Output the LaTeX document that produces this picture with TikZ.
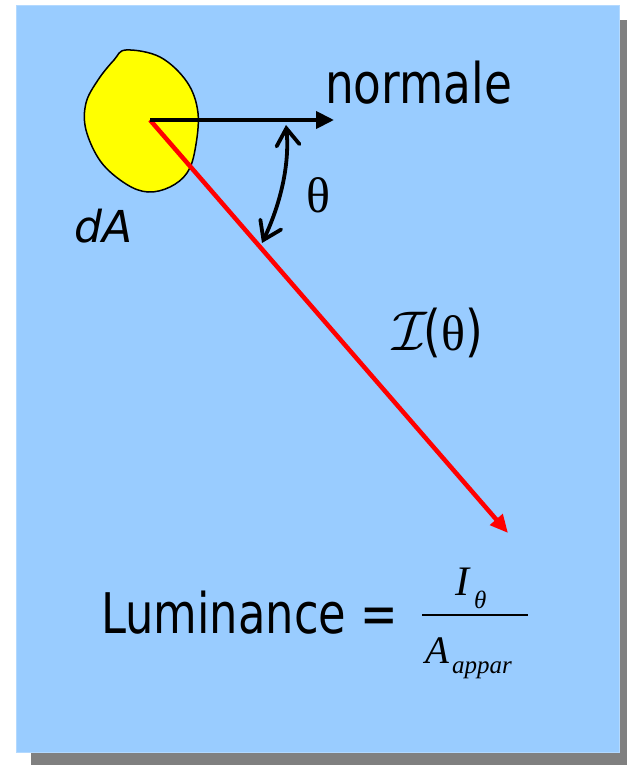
\documentclass[tikz,border=0pt]{standalone}
\usepackage{fontspec}
\setmainfont{DejaVu Sans}
\newfontfamily\seriffont{Liberation Serif}
\usetikzlibrary{arrows.meta}
\definecolor{panel}{HTML}{99CCFF}
\definecolor{paneledge}{HTML}{B3D9FF}
\definecolor{shadow}{HTML}{808080}
\definecolor{blobfill}{HTML}{FFFF00}
\definecolor{ray}{HTML}{FF0000}
\tikzset{
  lbl/.style={inner sep=0pt, anchor=base west},
  big/.style={font=\fontsize{56}{60}\selectfont},
  normalarrow/.style={line width=4pt, -{Triangle[length=18pt,width=17pt]}},
  rayarrow/.style={draw=ray, line width=4.5pt, -{Triangle[length=18pt,width=16pt]}},
  anglearrow/.style={line width=3.8pt, line cap=round,
     {Straight Barb[length=17pt,width=23pt,line cap=round]}-{Straight Barb[length=17pt,width=23pt,line cap=round]}},
}
\begin{document}
\begin{tikzpicture}[x=1pt,y=-1pt]
\useasboundingbox (0,0) rectangle (627,765);
% shadow and panel
\fill[shadow] (31,20) rectangle (627,765);
\fill[panel] (16,5) rectangle (620,753);
\draw[paneledge, line width=0.8pt] (16.4,5.4) rectangle (619.6,752.6);
% blob dA
\draw[fill=blobfill, line width=1.5pt] plot[smooth cycle, tension=0.6] coordinates {
  (126,50) (160,57) (187,82) (198,113) (195,150) (187,173) (170,187) (148,192)
  (126,184) (101,162) (86,130) (86,103) (98,80) (114,60)};
% key points
\coordinate (O) at (150,120);
\coordinate (N) at (334,120);
\coordinate (R) at (508,533);
\coordinate (T1) at (286,125);
\coordinate (T2) at (262,243);
% rays
\draw[rayarrow] (O) -- (R);
\draw[normalarrow] (O) -- (N);
\draw[anglearrow] (T1) .. controls (290,165) and (280,205) .. (T2);
% labels
\node[lbl, big] (normale) at (325,103) {\scalebox{0.81}[1]{normale}};
\node[lbl, font=\fontsize{44}{48}\selectfont\itshape] (dA) at (74,242) {dA};
\node[lbl, font=\fontsize{50}{54}\selectfont\seriffont] (theta) at (306,212) {θ};
\node[lbl] (Itheta) at (392,350) {\scalebox{5.6}{$\mathcal{I}$}\kern-3pt{\fontsize{56}{60}\selectfont\scalebox{0.81}[1]{(}}{\fontsize{50}{54}\selectfont\seriffont θ}{\fontsize{56}{60}\selectfont\scalebox{0.81}[1]{)}}};
\node[lbl, big] (lum) at (101,633) {\scalebox{0.8}[1]{Luminance =}};
% fraction
\node[lbl, font=\fontsize{42}{44}\selectfont\seriffont\itshape] (I) at (455,595) {I};
\node[lbl, font=\fontsize{25}{26}\selectfont\seriffont\itshape] (Isub) at (474,608) {θ};
\node[lbl, font=\fontsize{39}{42}\selectfont\seriffont\itshape] (A) at (425,663) {A};
\node[lbl, font=\fontsize{25}{28}\selectfont\seriffont\itshape] (Asub) at (452,673) {appar};
\coordinate (F1) at (422,615);
\coordinate (F2) at (528,615);
\draw[line width=1.5pt] (F1) -- (F2);
\end{tikzpicture}
\end{document}
